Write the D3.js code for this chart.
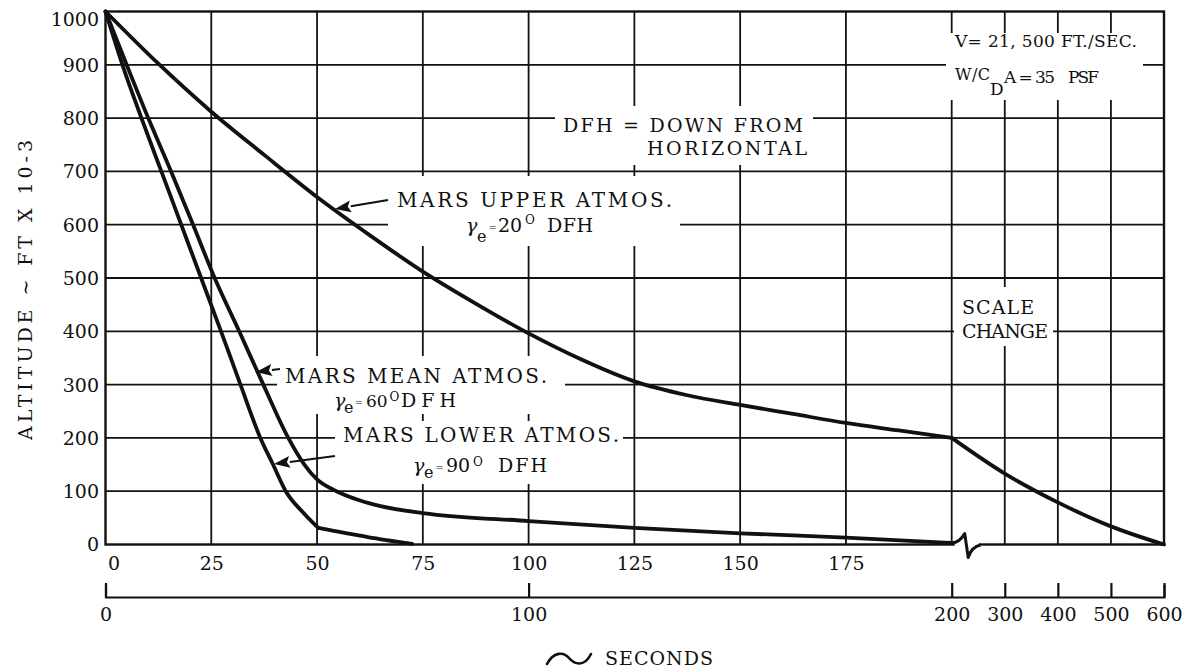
<!DOCTYPE html>
<html>
<head>
<meta charset="utf-8">
<script src="https://cdn.jsdelivr.net/npm/d3@7"></script>
<style>
  html, body { margin: 0; padding: 0; background: #fff; }
  svg { display: block; }
  text { font-family: "DejaVu Serif", "Liberation Serif", serif; fill: #111; }
</style>
</head>
<body>
<svg id="chart" width="1192" height="672"></svg>
<script>
// Entry trajectories: time in seconds vs altitude in ft x 10^-3
const upperAtmos = [[0,1000],[12.5,902],[25,812],[37.5,731],[50,652],[62.5,580],[75,512],[87.5,452],[100,396],[112.5,347],[125,306],[137.5,280],[150,262],[162.5,245],[175,228],[187.5,214],[200,200],[300,133],[400,79],[500,34],[600,0]];
const meanAtmos = [[0,1000],[5,900],[10.1,800],[15.5,700],[20.7,600],[25.8,500],[31.6,400],[37.3,300],[43.2,200],[47,150],[50,122],[54.6,100],[60,83],[65,72],[75,59],[100,44],[125,31],[150,21],[175,13],[200,3]];
const lowerAtmos = [[0,1000],[4,900],[8.5,800],[13.2,700],[17.9,600],[22.6,500],[27.3,400],[31.9,300],[36.6,200],[39.6,150],[42.6,100],[46.7,60],[50.3,31],[62,14],[72.5,1]];

// points where a trajectory has a corner (scale change, end of the steep plunge)
const upperKinks = [200];
const meanKinks = [];
const lowerKinks = [50.3];

const altitudeTicks = [0,100,200,300,400,500,600,700,800,900,1000];
const fineSecondsTicks = [0,25,50,75,100,125,150,175];
const coarseSecondsTicks = [0,100,200,300,400,500,600];
const gridSeconds = [25,50,75,100,125,150,175,200,300,400,500];

const svg = d3.select("#chart");
const INK = "#111";

// time axis: linear to 200 s, compressed from 200 to 600 s
const x = d3.scaleLinear().domain([0, 200, 600]).range([105.5, 951.7, 1164]);
const y = d3.scaleLinear().domain([0, 1000]).range([544.5, 11.5]);

// grid
const grid = svg.append("g").attr("stroke", INK).attr("stroke-width", 1.8);
grid.selectAll("line.v").data(gridSeconds).join("line").attr("class", "v")
  .attr("x1", d => x(d)).attr("x2", d => x(d))
  .attr("y1", y(1000)).attr("y2", y(0));
grid.selectAll("line.h").data(altitudeTicks.filter(v => v > 0 && v < 1000)).join("line").attr("class", "h")
  .attr("x1", x(0)).attr("x2", x(600))
  .attr("y1", d => y(d)).attr("y2", d => y(d));

// white panels behind the annotations
const panels = [
  [388, 176, 680, 246],
  [555, 106, 813, 165],
  [946, 33, 1143, 100],
  [954, 287, 1053, 346],
  [277, 356, 565, 414],
  [335, 421, 623, 484]
];
svg.append("g").selectAll("rect").data(panels).join("rect")
  .attr("x", d => d[0]).attr("y", d => d[1])
  .attr("width", d => d[2] - d[0]).attr("height", d => d[3] - d[1])
  .attr("fill", "#fff");

// frame
svg.append("rect")
  .attr("x", x(0)).attr("y", y(1000))
  .attr("width", x(600) - x(0)).attr("height", y(0) - y(1000))
  .attr("fill", "none").attr("stroke", INK).attr("stroke-width", 2.4);

// y axis labels
const yAxis = svg.append("g").attr("transform", `translate(${x(0)},0)`)
  .call(d3.axisLeft(y).tickValues(altitudeTicks).tickFormat(d3.format("d")).tickSize(0).tickPadding(6.5));
yAxis.select(".domain").remove();
yAxis.selectAll("text").style("font-size", "19px").attr("fill", INK)
  .attr("dy", d => d === 1000 ? "0.75em" : "0.34em");

// fine seconds labels under the plot
const xTop = svg.append("g").attr("transform", `translate(0,${y(0)})`)
  .call(d3.axisBottom(x).tickValues(fineSecondsTicks).tickFormat(d3.format("d")).tickSize(0).tickPadding(12));
xTop.select(".domain").remove();
xTop.selectAll("text").style("font-size", "19px").attr("fill", INK)
  .attr("dx", d => d === 0 ? 8 : 0);

// coarse seconds scale
const xBottom = svg.append("g").attr("transform", "translate(0,597)")
  .call(d3.axisBottom(x).tickValues(coarseSecondsTicks).tickFormat(d3.format("d"))
    .tickSizeInner(-14).tickSizeOuter(-12).tickPadding(10.5));
xBottom.select(".domain").attr("stroke", INK).attr("stroke-width", 2.2);
xBottom.selectAll(".tick line").attr("stroke", INK).attr("stroke-width", 2.2);
xBottom.selectAll("text").style("font-size", "19px").attr("fill", INK);
svg.selectAll("g.tick text").style("font-family", "'DejaVu Serif', 'Liberation Serif', serif");

// axis titles
svg.append("text")
  .attr("transform", "translate(32,290) rotate(-90)")
  .attr("text-anchor", "middle")
  .attr("textLength", 300).attr("lengthAdjust", "spacing")
  .style("font-size", "19px")
  .text("ALTITUDE \u223C FT X 10-3");
svg.append("path")
  .attr("d", "M547,664 C554,651 564,652 569,658 S584,668 591,654")
  .attr("fill", "none").attr("stroke", INK).attr("stroke-width", 2.6).attr("stroke-linecap", "round");
svg.append("text").attr("x", 605).attr("y", 665)
  .attr("textLength", 108).attr("lengthAdjust", "spacing")
  .style("font-size", "19px").text("SECONDS");

// trajectories
const line = d3.line().x(d => x(d[0])).y(d => y(d[1])).curve(d3.curveMonotoneX);
function pieces(points, kinks) {
  const out = [];
  let cur = [];
  points.forEach(p => {
    cur.push(p);
    if (kinks.includes(p[0])) { out.push(cur); cur = [p]; }
  });
  if (cur.length > 1) out.push(cur);
  return out;
}
const series = [
  { pts: upperAtmos, kinks: upperKinks },
  { pts: meanAtmos, kinks: meanKinks },
  { pts: lowerAtmos, kinks: lowerKinks }
];
const curves = svg.append("g").attr("fill", "none").attr("stroke", INK)
  .attr("stroke-width", 3.8).attr("stroke-linejoin", "round").attr("stroke-linecap", "round");
series.forEach(s => {
  pieces(s.pts, s.kinks).forEach(seg => curves.append("path").attr("d", line(seg)));
});

// scale-change break on the time axis
const bx = x(200), by = y(0);
svg.append("line").attr("x1", bx + 3).attr("x2", bx + 27).attr("y1", by).attr("y2", by)
  .attr("stroke", "#fff").attr("stroke-width", 3);
svg.append("path")
  .attr("d", `M${bx},${by - 1.5} Q${bx + 8},${by - 2} ${bx + 13},${by - 11} L${bx + 16.5},${by + 13} Q${bx + 20},${by + 2} ${bx + 29},${by + 0.5}`)
  .attr("fill", "none").attr("stroke", INK).attr("stroke-width", 3).attr("stroke-linejoin", "round");

// annotation text helpers
function words(px, py, str, width, size) {
  const t = svg.append("text").attr("x", px).attr("y", py)
    .style("font-size", size + "px").text(str);
  if (width) t.attr("textLength", width).attr("lengthAdjust", "spacing");
  return t;
}
function rich(parts) {
  parts.forEach(p => {
    const t = words(p.x, p.y, p.t, p.w, p.s);
    if (p.italic) t.style("font-style", "italic");
  });
}

words(397, 207, "MARS  UPPER  ATMOS.", 275, 20);
rich([
  { t: "\u03B3", x: 466, y: 232, s: 19, italic: true },
  { t: "e", x: 477, y: 242, s: 16 },
  { t: "=", x: 488.5, y: 231, s: 10 },
  { t: "20", x: 498, y: 232, s: 19 },
  { t: "O", x: 525, y: 224, s: 12 },
  { t: "DFH", x: 547, y: 232, s: 19, w: 46 }
]);

words(285, 383, "MARS  MEAN  ATMOS.", 262, 20);
rich([
  { t: "\u03B3", x: 334, y: 407, s: 19, italic: true },
  { t: "e", x: 344, y: 413, s: 16 },
  { t: "=", x: 355, y: 406, s: 9 },
  { t: "60", x: 366, y: 407, s: 17 },
  { t: "O", x: 389.5, y: 401, s: 12 },
  { t: "DFH", x: 401, y: 407, s: 19, w: 55 }
]);

words(343, 442, "MARS  LOWER  ATMOS.", 276, 20);
rich([
  { t: "\u03B3", x: 413, y: 472, s: 19, italic: true },
  { t: "e", x: 424, y: 478, s: 16 },
  { t: "=", x: 435.5, y: 471, s: 10 },
  { t: "90", x: 446, y: 472, s: 19 },
  { t: "O", x: 473, y: 466, s: 12 },
  { t: "DFH", x: 498, y: 472, s: 19, w: 49 }
]);

words(563, 132, "DFH = DOWN  FROM", 240, 19);
words(647, 155, "HORIZONTAL", 160, 19);

words(955, 47, "V= 21, 500  FT./SEC.", 182, 17);
rich([
  { t: "W/C", x: 955, y: 80, s: 16, w: 35 },
  { t: "D", x: 990, y: 95, s: 17 },
  { t: "A = 35", x: 1004, y: 83, s: 17, w: 51 },
  { t: "PSF", x: 1068, y: 83, s: 17, w: 31 }
]);

words(962, 314, "SCALE", 72, 19);
words(962, 338, "CHANGE", 86, 19);

// leader arrows
function arrow(x1, y1, x2, y2) {
  const a = Math.atan2(y2 - y1, x2 - x1);
  const L = 16, W = 6;
  const bxp = x2 - L * Math.cos(a), byp = y2 - L * Math.sin(a);
  svg.append("line").attr("x1", x1).attr("y1", y1).attr("x2", bxp).attr("y2", byp)
    .attr("stroke", INK).attr("stroke-width", 2);
  svg.append("path")
    .attr("d", `M${x2},${y2} L${bxp - W * Math.sin(a)},${byp + W * Math.cos(a)} L${bxp + 3 * Math.cos(a)},${byp + 3 * Math.sin(a)} L${bxp + W * Math.sin(a)},${byp - W * Math.cos(a)} Z`)
    .attr("fill", INK);
}
arrow(388, 200, 335, 209);
arrow(280, 369, 256, 372);
arrow(335, 456, 274, 464);
</script>
</body>
</html>
